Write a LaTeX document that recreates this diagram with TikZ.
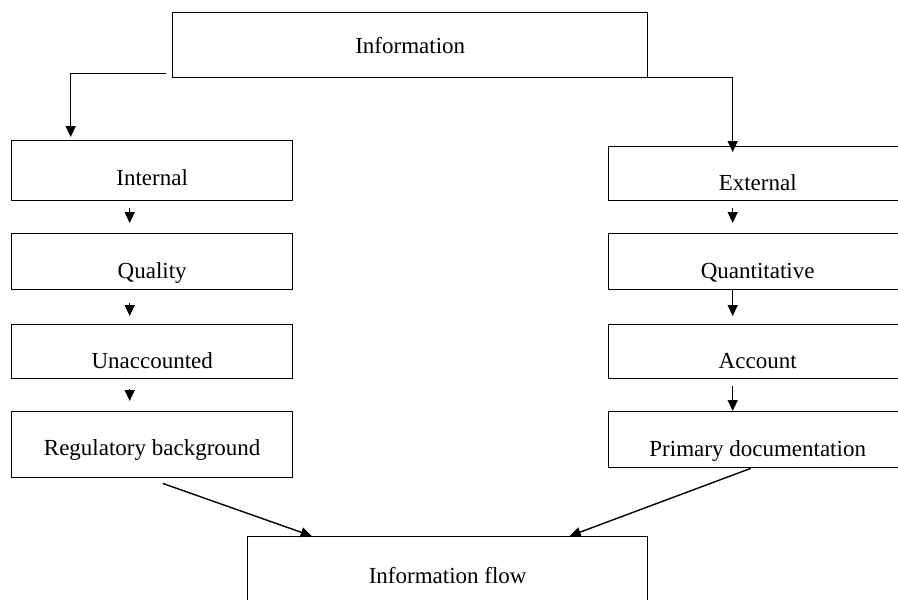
\documentclass[tikz,border=0pt]{standalone}
\usepackage{fontspec}
\setmainfont{Liberation Serif}
\usetikzlibrary{arrows.meta}
\tikzset{
  box/.style = {rectangle, draw=black, line width=1.4pt, anchor=north west, inner sep=0pt, font=\fontsize{23}{27}\selectfont},
  lbox/.style = {box, minimum width=281pt},
  rbox/.style = {box, minimum width=298pt},
  flowarrow/.style = {-{Triangle[length=11pt,width=10pt]}, line width=1.4pt}
}

\begin{document}
\begin{tikzpicture}[x=1pt, y=-1pt]
\useasboundingbox (0,0) rectangle (898,600);
\clip (0,0) rectangle (898,600);

% Draw the source
\node [box, minimum width=475pt, text height=41pt, text depth=24pt] (info) at (172,12) {Information};

% Draw the left column
\node [lbox, text height=45pt, text depth=15pt] (int) at (11,140) {Internal};
\node [lbox, text height=45pt, text depth=11pt] (qual) at (11,233) {Quality};
\node [lbox, text height=44pt, text depth=10pt] (unacc) at (11,324) {Unaccounted};
\node [lbox, text height=44pt, text depth=22pt] (reg) at (11,411) {Regulatory background};

% Draw the right column
\node [rbox, text height=44pt, text depth=10pt] (ext) at (608,146) {External};
\node [rbox, text height=45pt, text depth=11pt] (quant) at (608,233) {Quantitative};
\node [rbox, text height=44pt, text depth=10pt] (acc) at (608,324) {Account};
\node [rbox, text height=45pt, text depth=11pt] (prim) at (608,411) {Primary documentation};

% Draw the result
\node [box, minimum width=400pt, text height=47pt, text depth=40pt] (flow) at (247,536) {Information flow};

\draw[flowarrow, shorten >=3pt] ([xshift=-6pt,yshift=5pt]info.south west) -| ([xshift=-81.5pt]int.north);
\draw[flowarrow, shorten >=-6pt] ([yshift=1pt]info.south east) -| ([xshift=-25pt]ext.north);

\draw[flowarrow, shorten <=7pt, shorten >=10pt] ([xshift=-22.5pt]int.south) -- ([xshift=-22.5pt]qual.north);
\draw[flowarrow, shorten <=13pt, shorten >=8pt] ([xshift=-22.5pt]qual.south) -- ([xshift=-22.5pt]unacc.north);
\draw[flowarrow, shorten <=10pt, shorten >=10pt] ([xshift=-22.5pt]unacc.south) -- ([xshift=-22.5pt]reg.north);

\draw[flowarrow, shorten <=7pt, shorten >=10pt] ([xshift=-25pt]ext.south) -- ([xshift=-25pt]quant.north);
\draw[flowarrow, shorten >=8pt] ([xshift=-25pt]quant.south) -- ([xshift=-25pt]acc.north);
\draw[flowarrow, shorten <=7pt] ([xshift=-25pt]acc.south) -- ([xshift=-25pt]prim.north);

\draw[flowarrow] ([xshift=10.5pt,yshift=-5pt]reg.south) -- ([xshift=-136pt]flow.north);
\draw[flowarrow] ([xshift=-7pt]prim.south) -- ([xshift=122pt]flow.north);

\end{tikzpicture}
\end{document}
